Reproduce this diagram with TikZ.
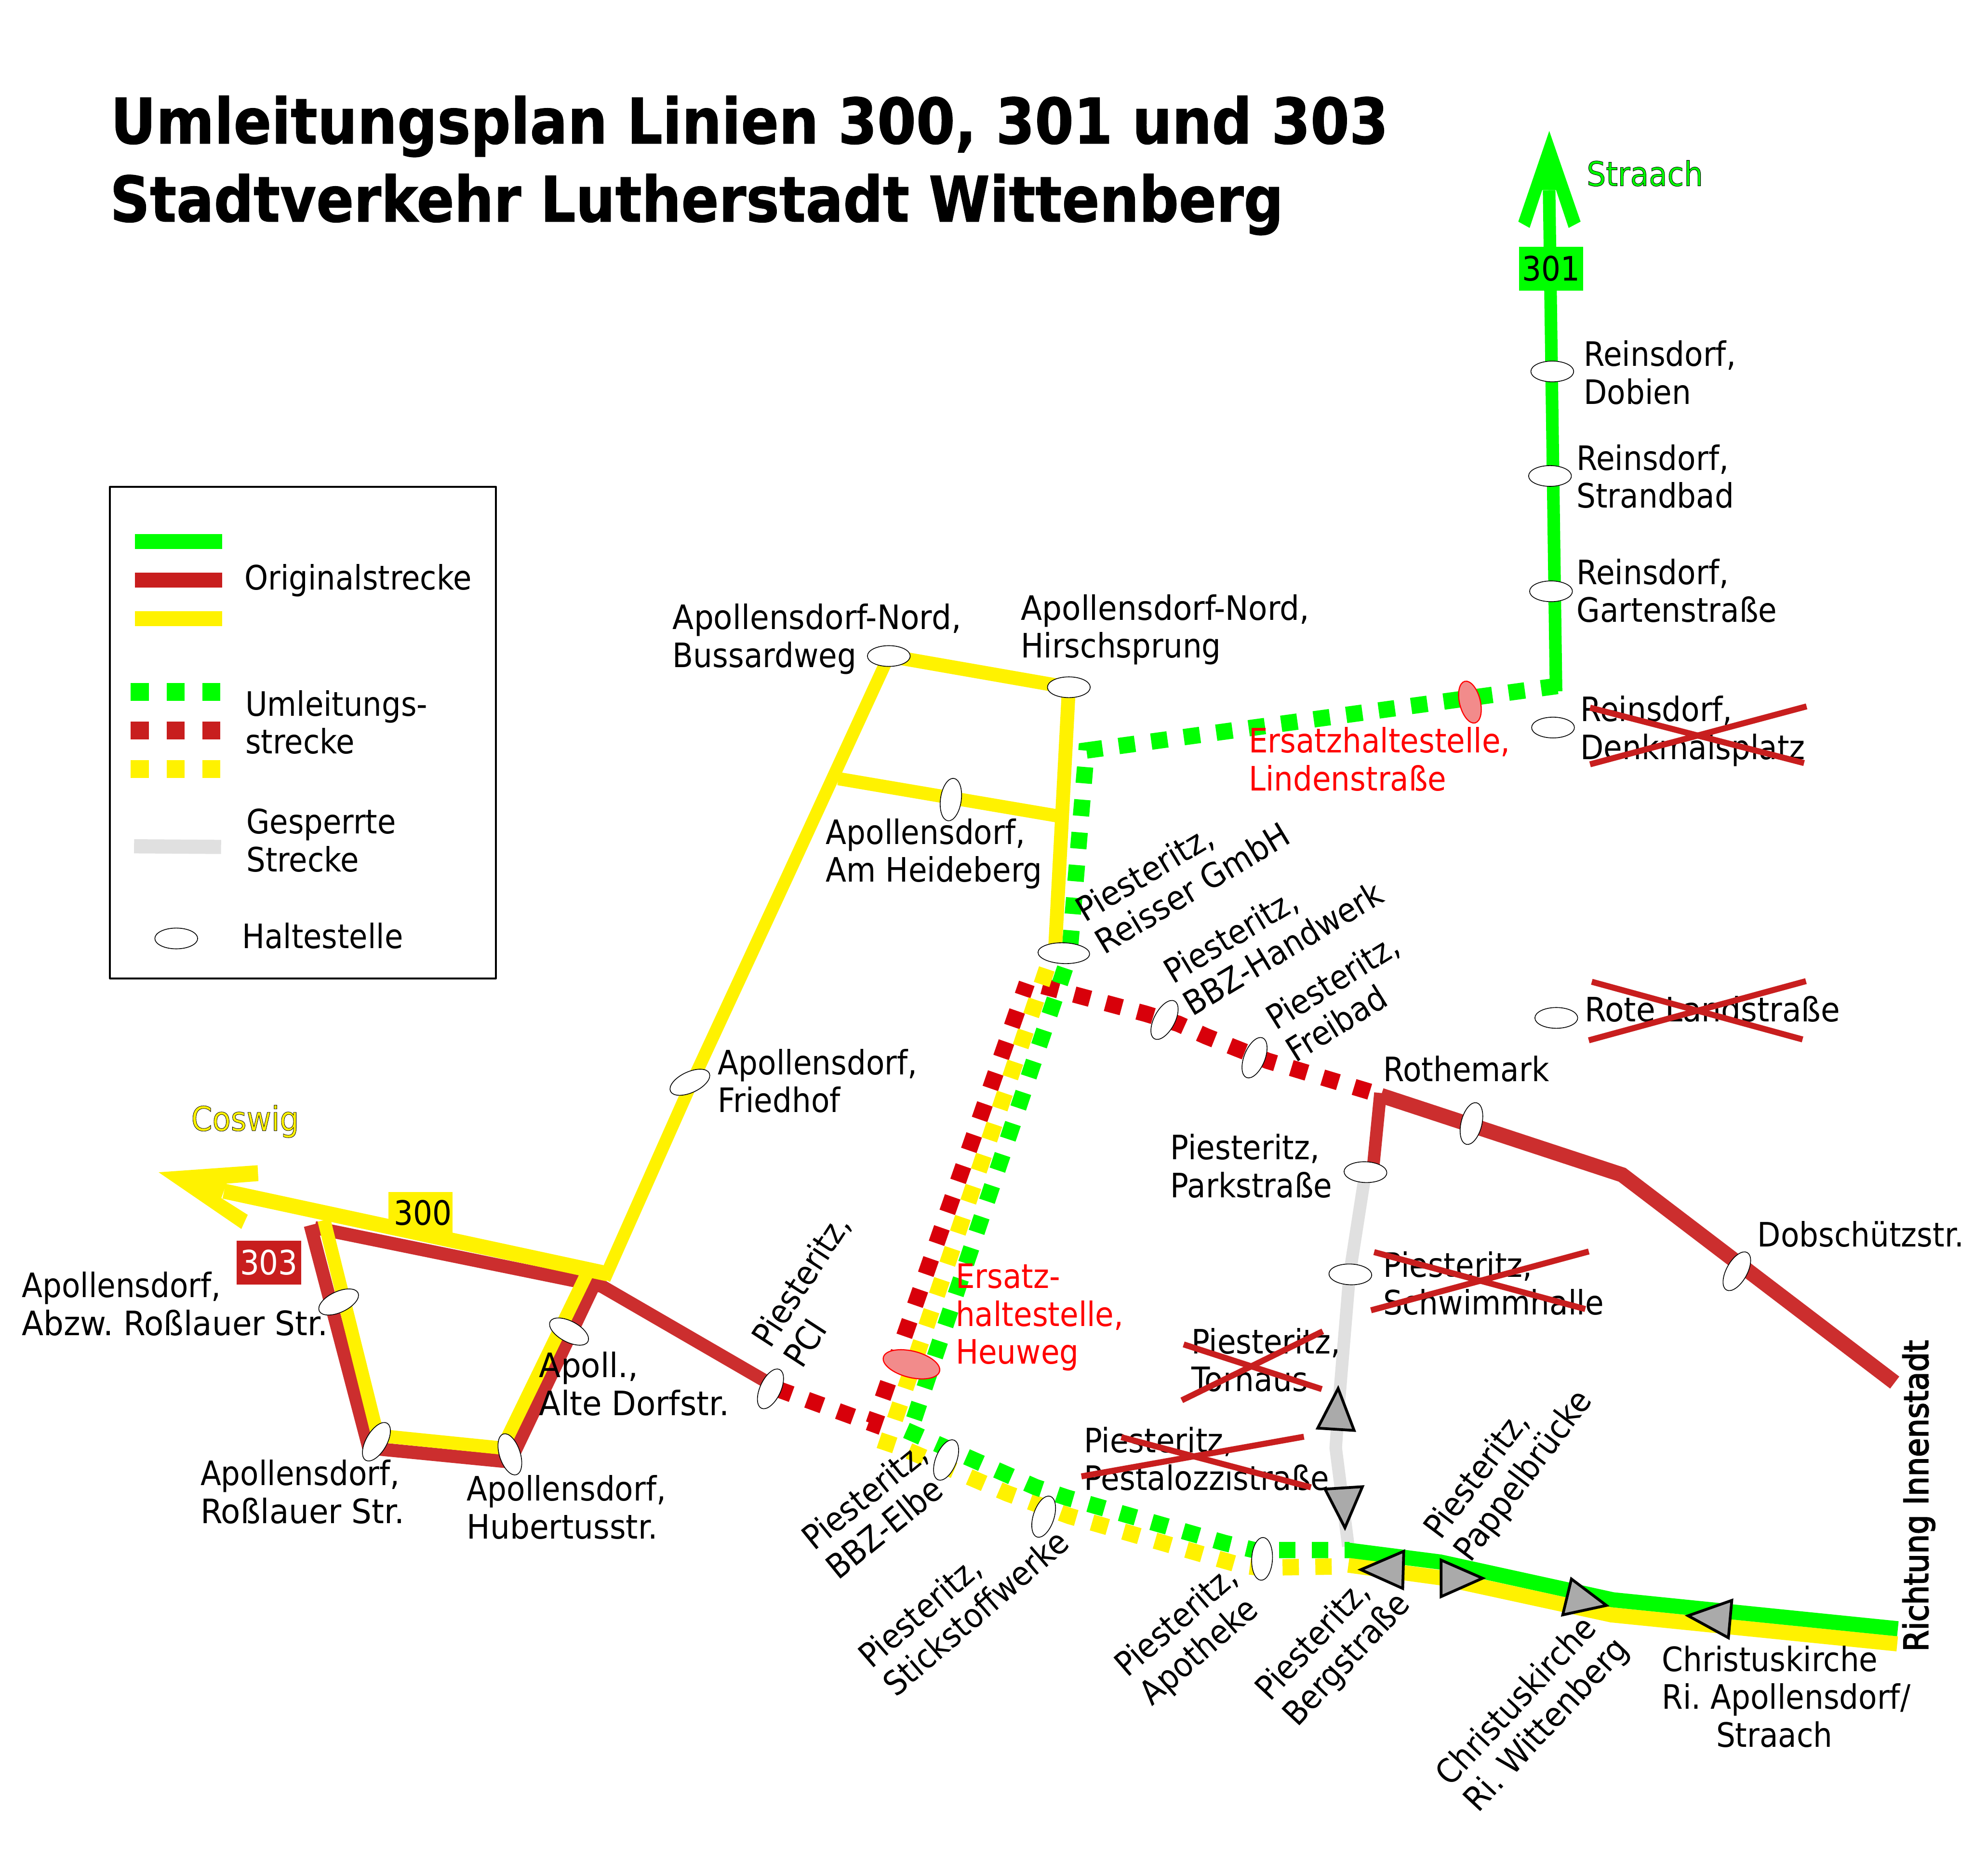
\documentclass[tikz,border=0pt]{standalone}
\usepackage{fontspec}
\usetikzlibrary{shapes.geometric}
\setmainfont{DejaVu Sans}
\newfontfamily\mainf[FakeStretch=0.90]{DejaVu Sans}
\newfontfamily\richf[FakeStretch=0.914]{DejaVu Sans}
\newfontfamily\widef[FakeStretch=0.925]{DejaVu Sans}
\newfontfamily\xwidef[FakeStretch=0.945]{DejaVu Sans}
\newfontfamily\legf[FakeStretch=0.895]{DejaVu Sans}
\newfontfamily\titf[FakeStretch=0.888]{DejaVu Sans Bold}
\newfontfamily\titg[FakeStretch=0.88]{DejaVu Sans Bold}
\newcommand\tf{\fontsize{15.2}{17.07}\selectfont\mainf\frenchspacing}
\newcommand\rf{\fontsize{15.2}{17.07}\selectfont\richf\frenchspacing}
\newcommand\wf{\fontsize{15.2}{17.07}\selectfont\widef\frenchspacing}
\newcommand\xf{\fontsize{15.2}{17.07}\selectfont\xwidef\frenchspacing}
\newcommand\lf{\fontsize{15.2}{17.07}\selectfont\legf\frenchspacing}
\newcommand\ttf{\fontsize{28.5}{35.2}\selectfont\titf}
\newcommand\ttg{\fontsize{28.5}{35.2}\selectfont\titg}
\newcommand\two[2]{\vtop{\baselineskip=17.07pt\lineskiplimit=-100pt\hbox{#1}\hbox{#2}}}
\newcommand\three[3]{\vtop{\baselineskip=17.07pt\lineskiplimit=-100pt\hbox{#1}\hbox{#2}\hbox{#3}}}
\newcommand\outl[2]{\special{pdf:code q #2 w 0 0 0 RG 2 Tr}#1\special{pdf:code Q}}
\definecolor{rgreen}{HTML}{00FF00}
\definecolor{ryellow}{HTML}{FFF200}
\definecolor{rred}{HTML}{CC2E2E}
\definecolor{dred}{HTML}{D8000A}
\definecolor{lred}{HTML}{C81E1E}
\definecolor{rgray}{HTML}{E0E0E0}
\definecolor{tgray}{HTML}{AAAAAA}
\definecolor{pink}{HTML}{F28B8B}
\tikzset{
 lab/.style={font=\tf,anchor=base west,inner sep=0pt,text=black,xshift=-.02cm},
 widelab/.style={lab,font=\wf},
 xwidelab/.style={lab,font=\xf},
 redlab/.style={lab,text=red},
 leglab/.style={lab,font=\lf},
 stopn/.style={ellipse,draw=black,fill=white,line width=.35pt,minimum width=.68cm,minimum height=.33cm,inner sep=0pt},
 ersatz/.style={stopn,draw=red,fill=pink,line width=.5pt},
 dots/.style={line width=.26cm,dash pattern=on .26cm off .261cm},
 gdots/.style={dots,draw=rgreen},
 ydots/.style={dots,draw=ryellow},
 rdots/.style={dots,draw=dred},
 solid10/.style={line width=.2cm},
 solid12/.style={line width=.24cm},
 crossl/.style={draw=lred,line width=.095cm},
 tri/.style={draw=black,fill=tgray,line width=.044cm,line join=miter},
 tag/.style={font=\tf,inner sep=0pt,minimum width=1.02cm,minimum height=.69cm},
}
\begin{document}
\begin{tikzpicture}[x=0.02cm,y=-0.02cm]
\useasboundingbox (0,0) rectangle (1568,1489.6);
% --- route vertices
\coordinate (gs1) at (1230.5,151); \coordinate (gs2) at (1236,549);
\coordinate (gd1) at (1237,544.8); \coordinate (gd2) at (863,596); \coordinate (gd3) at (850,752);
\coordinate (gd4) at (846,768.8); \coordinate (gd5) at (726,1127);
\coordinate (gd6) at (720,1136); \coordinate (gd7) at (822.5,1181); \coordinate (gd8) at (847.5,1189.4);
\coordinate (gd9) at (972.7,1225.4); \coordinate (gd10) at (996,1231); \coordinate (gd11) at (1072,1231);
\coordinate (yd1) at (831.5,769.5); \coordinate (yd2) at (702.5,1152);
\coordinate (yd3) at (722,1152.3); \coordinate (yd4) at (800,1186); \coordinate (yd5) at (849.5,1204);
\coordinate (yd6) at (985,1243); \coordinate (yd7) at (1000,1245); \coordinate (yd8) at (1066,1244);
\coordinate (rd1) at (616.6,1102.8); \coordinate (rd2) at (694,1131); \coordinate (rd3) at (815.6,781);
\coordinate (rd4) at (1088,867); \coordinate (rd5) at (1007,842.5); \coordinate (rd6) at (958,823);
\coordinate (rd7) at (935.8,813); \coordinate (rd8) at (909.7,805); \coordinate (rd9) at (828,783);
\coordinate (gr1) at (1084,935); \coordinate (gr2) at (1072,1012); \coordinate (gr3) at (1063,1120);
\coordinate (gr4) at (1061,1150); \coordinate (gr5) at (1071,1228);
\coordinate (rs1) at (1090.9,925); \coordinate (rsa) at (1096.5,868); \coordinate (rs2) at (1097,870); \coordinate (rs3) at (1288.5,933);
\coordinate (rs4) at (1505,1098);
\coordinate (r1) at (246.5,973); \coordinate (r2) at (293,1150); \coordinate (r3) at (405,1161);
\coordinate (r4) at (472,1020); \coordinate (r5) at (250,975); \coordinate (r6) at (478,1021.5);
\coordinate (r7) at (610,1098);
\coordinate (y1) at (178,946); \coordinate (y2) at (483,1011.7);
\coordinate (y3) at (257.4,969); \coordinate (y4) at (300,1140); \coordinate (y5) at (399,1150);
\coordinate (y6) at (466,1012);
\coordinate (y7) at (480,1016); \coordinate (y8) at (548,863); \coordinate (y9) at (625,697); \coordinate (y10) at (706,521);
\coordinate (y11) at (849,546); \coordinate (y12) at (838,755);
\coordinate (y13) at (666,618.4); \coordinate (y14) at (840,648);
\coordinate (gb1) at (1070,1231); \coordinate (gb2) at (1144,1240.5); \coordinate (gb3) at (1281,1270.5); \coordinate (gb4) at (1507.5,1293.5);
\coordinate (yb1) at (1071,1243); \coordinate (yb2) at (1144,1253); \coordinate (yb3) at (1280,1282.5); \coordinate (yb4) at (1507,1305.5);
% --- closed line
\draw[draw=rgray,solid10] (gr1)--(gr2)--(gr3)--(gr4)--(gr5);
% --- diversions
\draw[rdots] (rd1)--(rd2)--(rd3);
\draw[rdots] (rd4)--(rd5)--(rd6)--(rd7)--(rd8)--(rd9);
\draw[ydots] (yd1)--(yd2);
\draw[ydots] (yd3)--(yd4)--(yd5)--(yd6)--(yd7)--(yd8);
\draw[gdots] (gd1)--(gd2)--(gd3);
\draw[gdots] (gd4)--(gd5);
\draw[gdots] (gd6)--(gd7)--(gd8)--(gd9)--(gd10)--(gd11);
% --- original lines
\draw[draw=rgreen,solid10] (gs1)--(gs2);
\fill[rgreen] (1230.6,104)--(1255.5,176)--(1246,181)--(1236,151)--(1225,151)--(1215,181)--(1206,176)--cycle;
\draw[draw=rred,solid10] (rs1)--(rsa);
\draw[draw=rred,solid12] (rs2)--(rs3)--(rs4);
\draw[draw=rred,line width=.21cm] (r1)--(r2)--(r3)--(r4);
\draw[draw=rred,line width=.21cm] (r5)--(r6)--(r7);
\draw[draw=ryellow,solid12] (y1)--(y2);
\fill[ryellow] (126,931)--(204.6,925.4)--(205.3,938)--(179.9,940)--(175.8,951.5)--(196.8,964.8)--(191.7,976)--cycle;
\draw[draw=ryellow,line width=.21cm] (y3)--(y4)--(y5)--(y6);
\draw[draw=ryellow,solid10] (y7)--(y8)--(y9)--(y10);
\draw[draw=ryellow,line width=.22cm] (y10)--(y11);
\draw[draw=ryellow,line width=.22cm] (y11)--(y12);
\draw[draw=ryellow,line width=.21cm] (y13)--(y14);
\draw[draw=ryellow,solid12] (yb1)--(yb2)--(yb3)--(yb4);
\draw[draw=rgreen,solid12] (gb1)--(gb2)--(gb3)--(gb4);
% --- line tags
\node[tag,fill=rgreen,minimum height=.7cm] (t301) at (1232,213.3) {301};
\node[tag,fill=ryellow,minimum height=.66cm] (t300) at (334,963) {\hspace*{2pt}300};
\node[tag,fill=lred,text=white,minimum height=.7cm] (t303) at (213.6,1002.7) {303};
% --- stops
\node[stopn] (sDob) at (1233,295) {};
\node[stopn] (sStr) at (1231.2,378) {};
\node[stopn] (sGar) at (1232,469.6) {};
\node[stopn] (sDen) at (1233.6,577.8) {};
\node[stopn] (sRot) at (1236.2,808.4) {};
\node[stopn,rotate=76] (sRoth) at (1168.8,892.3) {};
\node[stopn,rotate=61] (sDob2) at (1379.6,1009.6) {};
\node[stopn,rotate=-2] (sPark) at (1084.6,930.9) {};
\node[stopn,rotate=-2] (sSchw) at (1072.6,1012.1) {};
\node[stopn] (sHir) at (849,545.8) {};
\node[stopn] (sBus) at (706,521) {};
\node[stopn,rotate=82] (sHei) at (755.3,635) {};
\node[stopn,minimum width=.82cm,rotate=-2] (sRei) at (845,757) {};
\node[stopn,rotate=62] (sBBZ) at (925,810) {};
\node[stopn,rotate=68] (sFre) at (996.5,840) {};
\node[stopn,rotate=25] (sFri) at (548,859.5) {};
\node[stopn,rotate=65] (sPCI) at (612,1103) {};
\node[stopn,rotate=68] (sBBE) at (751.5,1159.5) {};
\node[stopn,rotate=72] (sSti) at (829,1204.5) {};
\node[stopn,rotate=87] (sApo) at (1002.5,1238) {};
\node[stopn,rotate=25] (sAbz) at (269,1034) {};
\node[stopn,rotate=-28] (sAlt) at (452,1057.5) {};
\node[stopn,rotate=60] (sRos) at (299,1145) {};
\node[stopn,rotate=-72] (sHub) at (405,1155) {};
\node[ersatz,minimum width=.68cm,rotate=104] (eLin) at (1167.6,557.6) {};
\node[ersatz,minimum width=.92cm,minimum height=.42cm,rotate=-14] (eHeu) at (724,1083.5) {};
% --- labels
\node[font=\ttf,anchor=base west,inner sep=0pt] (title1) at (87.5,114) {\outl{Umleitungsplan Linien 300, 301 und 303}{0.25}};
\node[font=\ttg,anchor=base west,inner sep=0pt] (title2) at (87,176) {\outl{Stadtverkehr Lutherstadt Wittenberg}{0.25}};
\node[lab,text=rgreen] (lStraach) at (1261,147.6) {\outl{Straach}{0.2}};
\node[lab,text=ryellow] (lCoswig) at (152.5,898) {\outl{Coswig}{0.18}};
\node[lab] (l1) at (1258.7,290.9) {\two{Reinsdorf,}{Dobien}};
\node[lab] (l2) at (1253,373.4) {\two{Reinsdorf,}{Strandbad}};
\node[lab] (l3) at (1253,464) {\two{Reinsdorf,}{Gartenstraße}};
\node[lab] (l4) at (1256,573) {\two{Reinsdorf,}{Denkmalsplatz}};
\node[widelab] (l5) at (1259.5,811.5) {Rote Landstraße};
\node[lab] (l6) at (1099.5,859) {Rothemark};
\node[lab] (l7) at (1396.7,990) {Dobschützstr.};
\node[lab] (l8) at (930.4,921) {\two{Piesteritz,}{Parkstraße}};
\node[lab] (l9) at (1099.5,1014.2) {\two{Piesteritz,}{Schwimmhalle}};
\node[lab] (l10) at (947,1075) {\two{Piesteritz,}{Tornaus}};
\node[lab] (l11) at (861.7,1153.6) {\two{Piesteritz,}{Pestalozzistraße}};
\node[redlab] (l12) at (759.8,1023.2) {\three{Ersatz-}{haltestelle,}{Heuweg}};
\node[redlab] (l13) at (992.6,597.9) {\two{Ersatzhaltestelle,}{Lindenstraße}};
\node[widelab] (l14) at (811.6,492.5) {\two{Apollensdorf-Nord,}{\tf Hirschsprung}};
\node[widelab] (l15) at (535,499.9) {\two{Apollensdorf-Nord,}{\tf Bussardweg}};
\node[lab] (l16) at (656.7,670.3) {\two{Apollensdorf,}{Am Heideberg}};
\node[lab] (l17) at (571,853.5) {\two{Apollensdorf,}{Friedhof}};
\node[xwidelab] (l18) at (18,1030.5) {\two{\tf Apollensdorf,}{Abzw. Roßlauer Str.}};
\node[xwidelab] (l19) at (429,1094) {\two{Apoll.,}{Alte Dorfstr.}};
\node[lab] (l20) at (159.9,1179.8) {\two{Apollensdorf,}{\xf Roßlauer Str.}};
\node[lab] (l21) at (371.5,1192) {\two{Apollensdorf,}{\wf Hubertusstr.}};
\node[lab] (l22) at (1320.8,1327.4) {\three{Christuskirche}{Ri. Apollensdorf/}{\hspace*{24.5pt}Straach}};
\node[widelab,rotate=31] (l23) at (862.5,733) {\two{Piesteritz,}{Reisser GmbH}};
\node[lab,rotate=31] (l24) at (932.5,782) {\two{Piesteritz,}{BBZ-Handwerk}};
\node[lab,rotate=32] (l25) at (1014,819) {\two{Piesteritz,}{Freibad}};
\node[lab,rotate=57] (l26) at (612.7,1071.8) {\two{Piesteritz,}{PCI}};
\node[lab,rotate=39] (l27) at (647.6,1232.4) {\two{Piesteritz,}{BBZ-Elbe}};
\node[lab,rotate=41] (l28) at (693,1326) {\two{Piesteritz,}{Stickstoffwerke}};
\node[lab,rotate=41] (l29) at (896.2,1333) {\two{Piesteritz,}{Apotheke}};
\node[lab,rotate=47] (l30) at (1009.5,1352) {\two{Piesteritz,}{Bergstraße}};
\node[lab,rotate=53] (l31) at (1145,1224) {\two{Piesteritz,}{Pappelbrücke}};
\node[lab,rotate=47] (l32) at (1153,1420) {\two{Christuskirche}{\wf Ri. Wittenberg}};
\node[lab,font=\rf,rotate=90] (l33) at (1532.5,1312) {\outl{Richtung Innenstadt}{0.45}};
% --- crossed-out stops
\coordinate (c1a) at (1264.4,779.7); \coordinate (c1b) at (1431.8,825.5); \coordinate (c1c) at (1262,826.2); \coordinate (c1d) at (1434.5,779.2);
\coordinate (c2a) at (1091.5,994.4); \coordinate (c2b) at (1259.2,1039.6); \coordinate (c2c) at (1089,1040.6); \coordinate (c2d) at (1262,993.9);
\coordinate (c3a) at (1263,562); \coordinate (c3b) at (1433,606); \coordinate (c3c) at (1263,607); \coordinate (c3d) at (1435,561);
\coordinate (c4a) at (940.2,1067.7); \coordinate (c4b) at (1049.9,1103.2); \coordinate (c4c) at (938.7,1112.1); \coordinate (c4d) at (1050.7,1057.3);
\coordinate (c5a) at (890.7,1141.4); \coordinate (c5b) at (1041.3,1181.2); \coordinate (c5c) at (859,1172.5); \coordinate (c5d) at (1035.7,1141);
\foreach \n in {c1,c2,c3,c4,c5} {
  \draw[crossl] (\n a)--(\n b);
  \draw[crossl] (\n c)--(\n d);
}
% --- gray triangles
\draw[tri] (1062.9,1102.7)--(1046.7,1134.2)--(1075.6,1136)--cycle;
\draw[tri] (1052.5,1182.6)--(1082.2,1180.7)--(1068.3,1213.3)--cycle;
\draw[tri] (1115,1232)--(1081,1246.6)--(1114.2,1261.5)--cycle;
\draw[tri] (1144.7,1239)--(1177.6,1253.4)--(1144.7,1268)--cycle;
\draw[tri] (1248.2,1254)--(1276,1275)--(1241.3,1282.5)--cycle;
\draw[tri] (1375.6,1271)--(1340.9,1283.2)--(1372.9,1300.7)--cycle;
% --- legend
\coordinate (bx1) at (87.4,386.5); \coordinate (bx2) at (393.8,777);
\draw[black,line width=.03cm,line join=round] (bx1) rectangle (bx2);
\coordinate (lg1) at (107.2,430.2); \coordinate (lg2) at (176.6,430.2);
\coordinate (lr1) at (107.2,460.8); \coordinate (lr2) at (176.6,460.8);
\coordinate (ly1) at (107.2,491.3); \coordinate (ly2) at (176.6,491.3);
\draw[draw=rgreen,solid12] (lg1)--(lg2);
\draw[draw=lred,solid12] (lr1)--(lr2);
\draw[draw=ryellow,solid12] (ly1)--(ly2);
\coordinate (ldg1) at (103.9,549.6); \coordinate (ldg2) at (175,549.6);
\coordinate (ldr1) at (103.9,580.2); \coordinate (ldr2) at (175,580.2);
\coordinate (ldy1) at (103.9,610.7); \coordinate (ldy2) at (175,610.7);
\foreach \a/\b/\c in {ldg1/ldg2/rgreen,ldr1/ldr2/lred,ldy1/ldy2/ryellow}
  \draw[draw=\c,line width=.285cm,dash pattern=on .284cm off .285cm] (\a)--(\b);
\coordinate (lgr1) at (106.5,672.1); \coordinate (lgr2) at (175.6,672.6);
\draw[draw=rgray,line width=.225cm] (lgr1)--(lgr2);
\node[stopn] (lstop) at (140,745.3) {};
\node[leglab] (t1) at (195,468.2) {Originalstrecke};
\node[leglab] (t2) at (195.6,568.6) {\two{Umleitungs-}{strecke}};
\node[leglab] (t3) at (196.4,662.2) {\two{Gesperrte}{Strecke}};
\node[leglab] (t4) at (193,753) {Haltestelle};
\end{tikzpicture}
\end{document}
